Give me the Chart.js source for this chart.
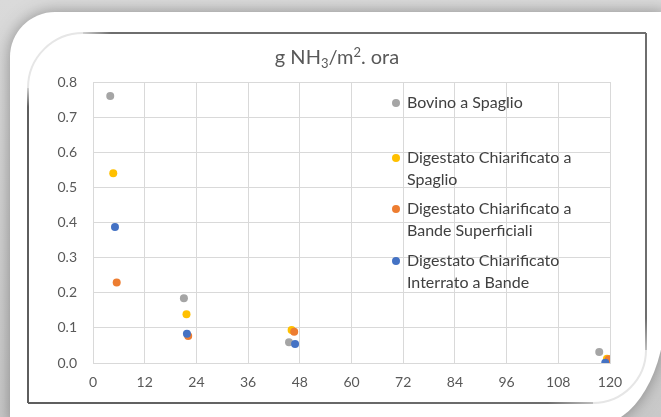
<!DOCTYPE html>
<html>
<head>
<meta charset="utf-8">
<script src="https://cdn.jsdelivr.net/npm/chart.js@4/dist/chart.umd.min.js"></script>
<style>
  html, body { margin: 0; padding: 0; background: #cfcfcf; }
  #wrap { position: relative; width: 661px; height: 417px; }
  canvas { display: block; }
</style>
</head>
<body>
<div id="wrap"><canvas id="c" width="661" height="417"></canvas></div>
<script>
// Hours after spreading (x) and ammonia flux (y) for each treatment
const bovinoX = [4.0, 21.1, 45.5, 117.5];
const bovinoY = [0.76, 0.184, 0.059, 0.031];

const spaglioX = [4.7, 21.7, 46.1, 119.3];
const spaglioY = [0.54, 0.139, 0.094, 0.012];

const bandeSupX = [5.5, 22.1, 46.7, 119.7];
const bandeSupY = [0.229, 0.077, 0.089, 0.011];

const interratoX = [5.1, 21.8, 46.9, 118.9];
const interratoY = [0.387, 0.083, 0.054, 0.001];

const seriesNames = [
  'Bovino a Spaglio',
  'Digestato Chiarificato a Spaglio',
  'Digestato Chiarificato a Bande Superficiali',
  'Digestato Chiarificato Interrato a Bande'
];
// Legend lines as they wrap in the legend box
const legendLines = [
  ['Bovino a Spaglio'],
  ['Digestato Chiarificato a', 'Spaglio'],
  ['Digestato Chiarificato a', 'Bande Superficiali'],
  ['Digestato Chiarificato', 'Interrato a Bande']
];

const xTicks = [0, 12, 24, 36, 48, 60, 72, 84, 96, 108, 120];
const yTicks = [0, 0.1, 0.2, 0.3, 0.4, 0.5, 0.6, 0.7, 0.8];

const colors = ['#A5A5A5', '#FFC000', '#ED7D31', '#4472C4'];

function pts(xs, ys) { return xs.map((x, i) => ({ x: x, y: ys[i] })); }

const seriesData = [
  pts(bovinoX, bovinoY),
  pts(spaglioX, spaglioY),
  pts(bandeSupX, bandeSupY),
  pts(interratoX, interratoY)
];

const FONT = 'Lato, "Open Sans", sans-serif';

// Card, shadow and frame behind the plot
const backdrop = {
  id: 'backdrop',
  beforeDraw(chart) {
    const ctx = chart.ctx;
    ctx.save();
    // page background
    const bg = ctx.createLinearGradient(0, 0, 0, 417);
    bg.addColorStop(0, '#dadada');
    bg.addColorStop(1, '#c9c9c9');
    ctx.fillStyle = bg;
    ctx.fillRect(0, 0, 661, 417);

    // white card with soft shadow
    ctx.shadowColor = 'rgba(0,0,0,0.35)';
    ctx.shadowBlur = 16;
    ctx.beginPath();
    ctx.moveTo(10, 57);
    ctx.arcTo(10, 12, 55, 12, 45);
    ctx.lineTo(666, 12);
    ctx.lineTo(666, 305);
    ctx.ellipse(596, 305, 70, 120, 0, 0, Math.PI / 2);
    ctx.lineTo(10, 425);
    ctx.closePath();
    ctx.fillStyle = '#ffffff';
    ctx.fill();
    ctx.shadowBlur = 0;
    ctx.shadowColor = 'transparent';

    // chart frame
    ctx.lineWidth = 2;
    ctx.strokeStyle = '#e6e6e6';
    ctx.beginPath();
    ctx.arc(83, 88, 55, Math.PI, Math.PI * 1.5);
    ctx.stroke();
    ctx.beginPath();
    ctx.arc(593, 350, 53, 0, Math.PI / 2);
    ctx.stroke();

    const top = ctx.createLinearGradient(83, 0, 646, 0);
    top.addColorStop(0, '#cfcfcf');
    top.addColorStop(0.05, '#6e6e6e');
    top.addColorStop(1, '#6e6e6e');
    ctx.strokeStyle = top;
    ctx.beginPath(); ctx.moveTo(83, 33); ctx.lineTo(646, 33); ctx.stroke();

    const right = ctx.createLinearGradient(0, 33, 0, 350);
    right.addColorStop(0, '#6e6e6e');
    right.addColorStop(0.9, '#6e6e6e');
    right.addColorStop(1, '#bdbdbd');
    ctx.strokeStyle = right;
    ctx.beginPath(); ctx.moveTo(646, 33); ctx.lineTo(646, 350); ctx.stroke();

    const bottom = ctx.createLinearGradient(28, 0, 593, 0);
    bottom.addColorStop(0, '#5e5e5e');
    bottom.addColorStop(0.92, '#6e6e6e');
    bottom.addColorStop(1, '#bdbdbd');
    ctx.strokeStyle = bottom;
    ctx.beginPath(); ctx.moveTo(28, 403); ctx.lineTo(593, 403); ctx.stroke();

    const left = ctx.createLinearGradient(0, 88, 0, 403);
    left.addColorStop(0, '#cfcfcf');
    left.addColorStop(0.06, '#5e5e5e');
    left.addColorStop(1, '#5e5e5e');
    ctx.strokeStyle = left;
    ctx.beginPath(); ctx.moveTo(28, 88); ctx.lineTo(28, 403); ctx.stroke();
    ctx.restore();
  }
};

// Title with chemical subscript and unit superscript
const titlePlugin = {
  id: 'richTitle',
  afterDraw(chart) {
    const ctx = chart.ctx;
    const size = 20, small = 13;
    const parts = [
      { t: 'g NH', s: size, dy: 0 },
      { t: '3', s: small, dy: 4 },
      { t: '/m', s: size, dy: 0 },
      { t: '2', s: small, dy: -7 },
      { t: '. ora', s: size, dy: 0 }
    ];
    ctx.save();
    ctx.fillStyle = '#595959';
    ctx.textBaseline = 'alphabetic';
    let total = 0;
    parts.forEach(p => { ctx.font = p.s + 'px ' + FONT; p.w = ctx.measureText(p.t).width; total += p.w; });
    let x = 337 - total / 2;
    const base = 64;
    parts.forEach(p => {
      ctx.font = p.s + 'px ' + FONT;
      ctx.fillText(p.t, x, base + p.dy);
      x += p.w;
    });
    ctx.restore();
  }
};

// Legend placed inside the plot, right side
const legendPlugin = {
  id: 'insideLegend',
  afterDraw(chart) {
    const ctx = chart.ctx;
    const rows = [[103], [158, 180], [209, 231], [261, 283]];
    ctx.save();
    ctx.font = '16px ' + FONT;
    ctx.textBaseline = 'middle';
    legendLines.forEach((lines, i) => {
      const ds = chart.data.datasets[i];
      ctx.fillStyle = ds.backgroundColor;
      ctx.beginPath();
      ctx.arc(396, rows[i][0], 4, 0, Math.PI * 2);
      ctx.fill();
      ctx.fillStyle = '#404040';
      lines.forEach((ln, j) => ctx.fillText(ln, 407, rows[i][j]));
    });
    ctx.restore();
  }
};

new Chart(document.getElementById('c'), {
  type: 'scatter',
  data: {
    datasets: seriesNames.map((name, i) => ({
      label: name,
      data: seriesData[i],
      backgroundColor: colors[i],
      borderColor: colors[i],
      borderWidth: 0,
      pointRadius: 4,
      pointHoverRadius: 4,
      order: 3 - i
    }))
  },
  options: {
    responsive: false,
    animation: false,
    events: [],
    layout: { padding: { left: 0, top: 82, right: 51, bottom: 24 } },
    plugins: {
      legend: { display: false },
      title: { display: false },
      tooltip: { enabled: false }
    },
    scales: {
      x: {
        type: 'linear',
        min: 0, max: 120,
        afterBuildTicks(axis) { axis.ticks = xTicks.map(v => ({ value: v })); },
        afterFit(axis) { axis.height = 30; },
        grid: { color: '#d9d9d9', lineWidth: 1, drawTicks: false },
        border: { color: '#d9d9d9' },
        ticks: { color: '#595959', font: { family: FONT, size: 14 }, padding: 11, maxRotation: 0 }
      },
      y: {
        type: 'linear',
        min: 0, max: 0.8,
        afterBuildTicks(axis) { axis.ticks = yTicks.map(v => ({ value: v })); },
        afterFit(axis) { axis.width = 93; },
        grid: { color: '#d9d9d9', lineWidth: 1, drawTicks: false },
        border: { color: '#d9d9d9' },
        ticks: {
          color: '#595959', font: { family: FONT, size: 14 }, padding: 16,
          callback: v => Number(v).toFixed(1)
        }
      }
    }
  },
  plugins: [backdrop, titlePlugin, legendPlugin]
});
</script>
</body>
</html>
